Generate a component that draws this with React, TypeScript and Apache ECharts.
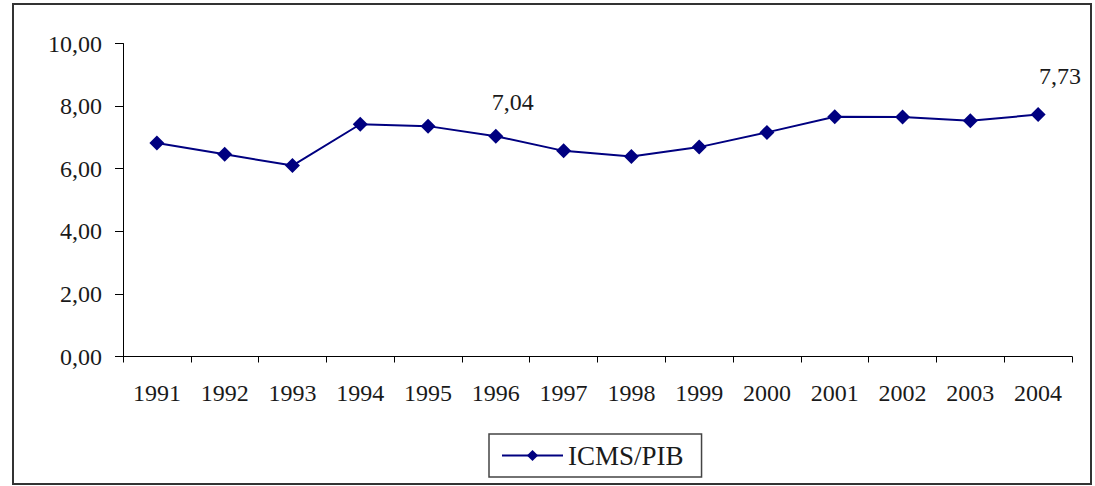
import React, { useEffect, useRef } from "react";
import * as echarts from "echarts";

// ICMS collection as a share of GDP, 1991–2004
const years = ["1991", "1992", "1993", "1994", "1995", "1996", "1997", "1998", "1999", "2000", "2001", "2002", "2003", "2004"];
const icmsPib = [6.82, 6.46, 6.1, 7.42, 7.36, 7.04, 6.57, 6.39, 6.69, 7.16, 7.66, 7.65, 7.53, 7.73];
const labelledYears = ["1996", "2004"];
const seriesName = "ICMS/PIB";

const FONT = "'Liberation Serif', 'Times New Roman', serif";
const NAVY = "#000080";
const TEXT = "#1a1a1a";

const fmt = (v: number) => v.toFixed(2).replace(".", ",");

export default function App() {
  const ref = useRef<HTMLDivElement>(null);

  useEffect(() => {
    if (!ref.current) return;
    const chart = echarts.init(ref.current, undefined, { renderer: "svg" });

    const labelOffsets: Record<string, number[]> = {
      "1996": [17, -34],
      "2004": [22, -39],
    };

    const data = icmsPib.map((v, i) => {
      const y = years[i];
      if (!labelledYears.includes(y)) return v;
      return {
        value: v,
        label: {
          show: true,
          position: "inside",
          offset: labelOffsets[y],
          formatter: (p: any) => fmt(p.value),
          fontFamily: FONT,
          fontSize: 24,
          color: TEXT,
        },
      };
    });

    chart.setOption({
      animation: false,
      backgroundColor: "#fff",
      graphic: [
        {
          type: "rect",
          shape: { x: 13, y: 4, width: 1078, height: 480 },
          style: { fill: "none", stroke: "#333", lineWidth: 2 },
          silent: true,
        },
      ],
      grid: { left: 123, right: 23, top: 43.5, bottom: 129.5, containLabel: false },
      legend: {
        data: [seriesName],
        left: 489,
        top: 434,
        orient: "horizontal",
        itemWidth: 61,
        itemHeight: 14,
        padding: [8, 18, 8, 12],
        borderColor: "#444",
        borderWidth: 1.5,
        borderRadius: 0,
        textStyle: { fontFamily: FONT, fontSize: 27, color: TEXT },
      },
      xAxis: {
        type: "category",
        data: years,
        boundaryGap: true,
        axisLine: { show: true, lineStyle: { color: "#000", width: 1 } },
        axisTick: { show: true, length: 6, lineStyle: { color: "#000" } },
        axisLabel: { margin: 24, fontFamily: FONT, fontSize: 24, color: TEXT, interval: 0 },
        splitLine: { show: false },
      },
      yAxis: {
        type: "value",
        min: 0,
        max: 10,
        interval: 2,
        axisLine: { show: true, lineStyle: { color: "#000", width: 1 } },
        axisTick: { show: true, length: 8, lineStyle: { color: "#000" } },
        axisLabel: { margin: 21, fontFamily: FONT, fontSize: 24, color: TEXT, formatter: (v: number) => fmt(v) },
        splitLine: { show: false },
      },
      series: [
        {
          name: seriesName,
          type: "line",
          data,
          symbol: "diamond",
          symbolSize: 15,
          showAllSymbol: true,
          lineStyle: { color: NAVY, width: 2 },
          itemStyle: { color: NAVY },
          label: { show: false },
        },
      ],
    });

    return () => chart.dispose();
  }, []);

  return (
    <div
      ref={ref}
      style={{ position: "fixed", left: 0, top: 0, width: 1095, height: 486, background: "#fff" }}
    />
  );
}
